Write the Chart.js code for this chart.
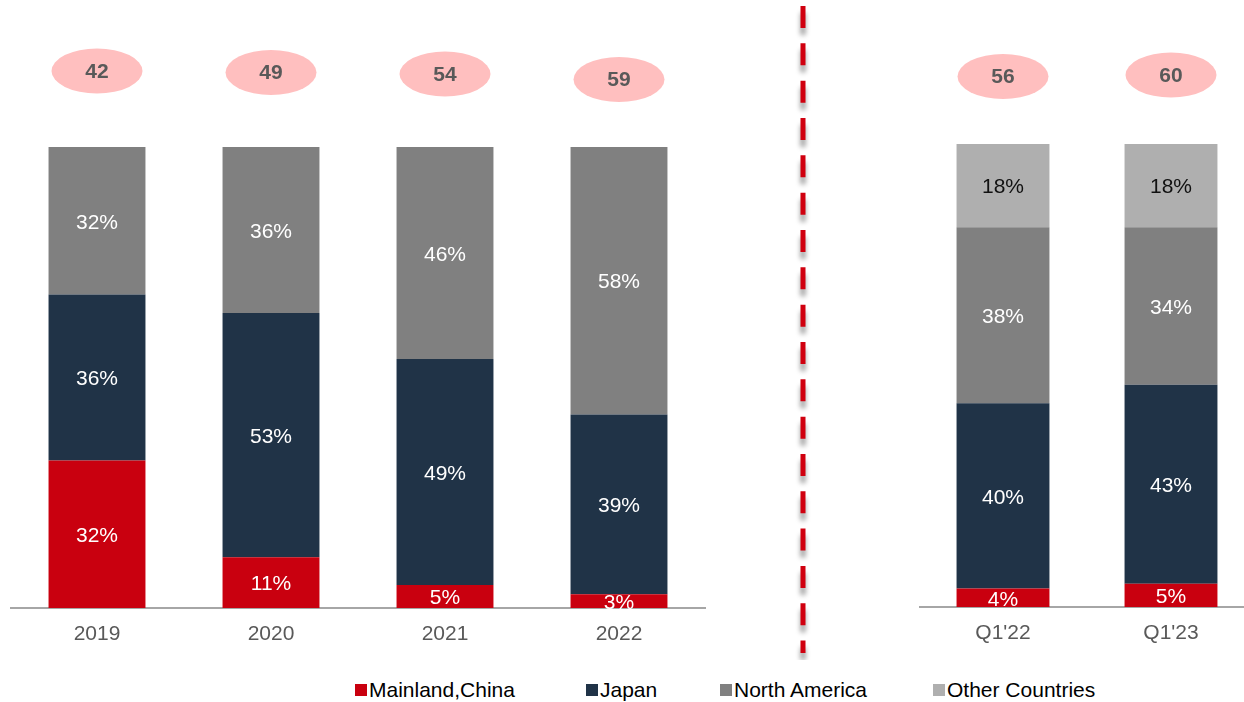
<!DOCTYPE html>
<html>
<head>
<meta charset="utf-8">
<script src="https://cdn.jsdelivr.net/npm/chart.js@4"></script>
<style>
  html, body { margin: 0; padding: 0; background: #fff; overflow: hidden; }
  body { width: 1244px; height: 702px; position: relative; font-family: "Liberation Sans", Arial, sans-serif; }
  #yearChart { position: absolute; left: 10px; top: 0; }
  #quarterChart { position: absolute; left: 919px; top: 0; }
  #divider { position: absolute; left: 783px; top: 0; }
  .legend-item { position: absolute; top: 678px; display: flex; align-items: center; font-size: 21px; color: #000; white-space: nowrap; }
  .legend-item .swatch { width: 12px; height: 12px; margin-right: 2px; }
</style>
</head>
<body>
<canvas id="yearChart" width="696" height="650"></canvas>
<canvas id="divider" width="40" height="660"></canvas>
<canvas id="quarterChart" width="336" height="649"></canvas>
<div id="legend"></div>
<script>
// Annual mix by region (% of total)
const years = ['2019', '2020', '2021', '2022'];
const mainlandYear = [32, 11, 5, 3];
const japanYear = [36, 53, 49, 39];
const northAmericaYear = [32, 36, 46, 58];
const totalsYear = [42, 49, 54, 59];

// Quarterly mix by region (% of total)
const quarters = ["Q1'22", "Q1'23"];
const mainlandQ = [4, 5];
const japanQ = [40, 43];
const northAmericaQ = [38, 34];
const otherQ = [18, 18];
const totalsQ = [56, 60];

const seriesNames = ['Mainland,China', 'Japan', 'North America', 'Other Countries'];
const seriesColors = ['#C9000F', '#203347', '#808080', '#AFAFAF'];
const labelColors = ['#ffffff', '#ffffff', '#ffffff', '#111111'];

// Vertical centre of each total badge (px)
const badgeYYear = [71, 72.5, 74, 79.5];
const badgeYQ = [76.5, 75];
const legendX = [355, 586, 720, 933];

const FONT = '"Liberation Sans", Arial, sans-serif';

// Percent text centred inside each stacked segment
const segmentLabels = {
  id: 'segmentLabels',
  afterDatasetsDraw(chart) {
    const ctx = chart.ctx;
    ctx.save();
    ctx.font = '21px ' + FONT;
    ctx.textAlign = 'center';
    ctx.textBaseline = 'middle';
    chart.data.datasets.forEach((ds, di) => {
      const meta = chart.getDatasetMeta(di);
      meta.data.forEach((el, i) => {
        const p = el.getProps(['x', 'y', 'base'], true);
        ctx.fillStyle = ds.labelColor;
        ctx.fillText(ds.data[i] + '%', p.x, (p.y + p.base) / 2 + 2);
      });
    });
    ctx.restore();
  }
};

// Pink oval with the total above each bar
const totalBadges = {
  id: 'totalBadges',
  afterDraw(chart, args, opts) {
    const ctx = chart.ctx;
    const xs = chart.scales.x;
    ctx.save();
    opts.totals.forEach((t, i) => {
      const x = xs.getPixelForValue(i);
      const y = opts.ys[i];
      ctx.beginPath();
      ctx.ellipse(x, y, 45.5, 22.5, 0, 0, Math.PI * 2);
      ctx.fillStyle = '#FFBFBF';
      ctx.fill();
      ctx.font = 'bold 21px ' + FONT;
      ctx.fillStyle = '#595959';
      ctx.textAlign = 'center';
      ctx.textBaseline = 'middle';
      ctx.fillText(String(t), x, y + 1);
    });
    ctx.restore();
  }
};

function makeDatasets(seriesList, barPct) {
  return seriesList.map((data, k) => ({
    label: seriesNames[k],
    data: data,
    backgroundColor: seriesColors[k],
    labelColor: labelColors[k],
    borderWidth: 0,
    barPercentage: barPct,
    categoryPercentage: 1
  }));
}

function makeOptions(topPad, totals, ys) {
  return {
    responsive: false,
    animation: false,
    layout: { padding: { top: topPad, left: 0, right: 0, bottom: 0 } },
    plugins: {
      legend: { display: false },
      tooltip: { enabled: false },
      totalBadges: { totals: totals, ys: ys }
    },
    scales: {
      x: {
        stacked: true,
        grid: { display: false, drawTicks: false },
        border: { display: true, color: '#A6A6A6', width: 2 },
        ticks: { color: '#595959', font: { family: FONT, size: 21 }, padding: 14 },
        afterFit(scale) { scale.height = 42; }
      },
      y: { stacked: true, display: false, min: 0, max: 100 }
    }
  };
}

new Chart(document.getElementById('yearChart'), {
  type: 'bar',
  data: { labels: years, datasets: makeDatasets([mainlandYear, japanYear, northAmericaYear], 0.557) },
  options: makeOptions(147, totalsYear, badgeYYear),
  plugins: [segmentLabels, totalBadges]
});

new Chart(document.getElementById('quarterChart'), {
  type: 'bar',
  data: { labels: quarters, datasets: makeDatasets([mainlandQ, japanQ, northAmericaQ, otherQ], 0.553) },
  options: makeOptions(144, totalsQ, badgeYQ),
  plugins: [segmentLabels, totalBadges]
});

// Red dashed separator with a soft drop shadow
(function drawDivider() {
  const c = document.getElementById('divider');
  const ctx = c.getContext('2d');
  ctx.save();
  ctx.strokeStyle = '#D0000F';
  ctx.lineWidth = 5;
  ctx.setLineDash([22, 15.33]);
  ctx.shadowColor = 'rgba(0,0,0,0.4)';
  ctx.shadowBlur = 5;
  ctx.shadowOffsetX = 0;
  ctx.shadowOffsetY = 7;
  ctx.beginPath();
  ctx.moveTo(20, 6);
  ctx.lineTo(20, 653);
  ctx.stroke();
  ctx.restore();
})();

// Legend
const legend = document.getElementById('legend');
seriesNames.forEach((name, k) => {
  const item = document.createElement('div');
  item.className = 'legend-item';
  item.style.left = legendX[k] + 'px';
  const sw = document.createElement('span');
  sw.className = 'swatch';
  sw.style.background = seriesColors[k];
  const tx = document.createElement('span');
  tx.textContent = name;
  item.appendChild(sw);
  item.appendChild(tx);
  legend.appendChild(item);
});
</script>
</body>
</html>
